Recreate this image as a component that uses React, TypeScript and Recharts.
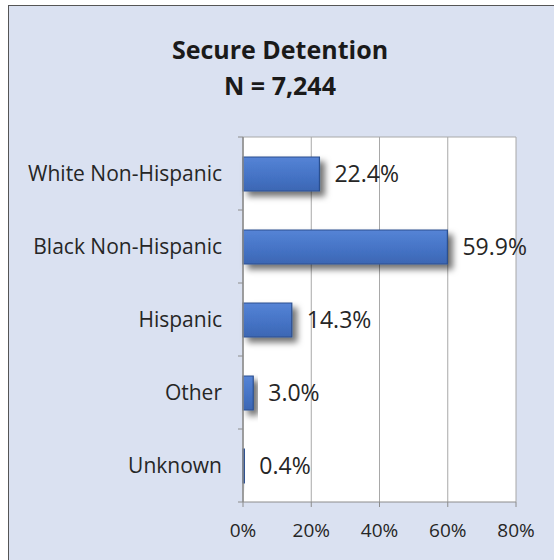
import { BarChart, Bar, XAxis, YAxis, CartesianGrid, LabelList, Rectangle } from "recharts"

const categories = ["White Non-Hispanic", "Black Non-Hispanic", "Hispanic", "Other", "Unknown"]
const percents = [22.4, 59.9, 14.3, 3.0, 0.4]
const xTicks = [0, 20, 40, 60, 80]

const data = categories.map((name, i) => ({ name, value: percents[i] }))

const font = "'Open Sans', 'Noto Sans', sans-serif"
const axisGray = "#8c8c8c"
const labelGap = 21

// category label plus a tick mark on the band edges (Excel style)
function CategoryTick(props: any) {
  const { x, y, payload, index } = props
  const half = payload?.offset ?? 0
  const ax = x + labelGap
  return (
    <g>
      <line x1={ax - 5} x2={ax} y1={y - half} y2={y - half} stroke={axisGray} />
      {index === categories.length - 1 && (
        <line x1={ax - 5} x2={ax} y1={y + half} y2={y + half} stroke={axisGray} />
      )}
      <text x={x} y={y} dy="0.355em" textAnchor="end" fontSize={21} fill="#262626" fontFamily={font}>
        {payload.value}
      </text>
    </g>
  )
}

export default function App() {
  return (
    <div style={{ position: "fixed", left: 0, top: 0, width: 554, height: 560, background: "#fff", overflow: "hidden", fontFamily: font }}>
      {/* shadow + bevel fill shared with the bars */}
      <svg width={0} height={0} style={{ position: "absolute" }}>
        <defs>
          <filter id="barShadow" x="-20%" y="-30%" width="160%" height="200%">
            <feDropShadow dx="5" dy="5" stdDeviation="3" floodColor="#000" floodOpacity="0.55" />
          </filter>
          <linearGradient id="barFill" x1="0" y1="0" x2="0" y2="1">
            <stop offset="0%" stopColor="#5584d6" />
            <stop offset="60%" stopColor="#4472c4" />
            <stop offset="100%" stopColor="#3d67b3" />
          </linearGradient>
        </defs>
      </svg>

      {/* outer chart frame */}
      <div style={{ position: "absolute", left: 8, top: 5, width: 560, height: 580, background: "#dae1f1", border: "1px solid #555" }} />

      {/* Title */}
      <div style={{ position: "absolute", left: 0, top: 31, width: 560, textAlign: "center", fontSize: 25, fontWeight: 700, color: "#1a1a1a", lineHeight: "36px" }}>
        Secure Detention
        <br />
        N = 7,244
      </div>

      <div style={{ position: "absolute", left: 0, top: 0 }}>
        <BarChart
          width={554}
          height={560}
          data={data}
          layout="vertical"
          margin={{ top: 137, right: 38, bottom: 0, left: 0 }}
        >
          <CartesianGrid
            fill="#fff"
            stroke="#a8a8a8"
            horizontal={true}
            horizontalCoordinatesGenerator={({ offset }: any) => [offset.top]}
          />
          <XAxis
            type="number"
            domain={[0, 80]}
            ticks={xTicks}
            tickFormatter={(v: number) => `${v}%`}
            axisLine={{ stroke: axisGray }}
            tickLine={{ stroke: axisGray }}
            tickSize={5}
            tickMargin={17}
            height={58}
            tick={{ fontSize: 19, fill: "#262626", fontFamily: font }}
            interval={0}
          />
          <YAxis
            type="category"
            dataKey="name"
            width={243}
            axisLine={{ stroke: axisGray, strokeWidth: 1.5 }}
            tickLine={false}
            tickSize={0}
            tickMargin={labelGap}
            tick={<CategoryTick />}
            interval={0}
          />
          <Bar
            dataKey="value"
            fill="url(#barFill)"
            stroke="#2c4f8f"
            strokeWidth={1.2}
            barSize={34}
            isAnimationActive={false}
            shape={(props: any) => <Rectangle {...props} filter="url(#barShadow)" />}
          >
            <LabelList
              dataKey="value"
              position="right"
              offset={15}
              formatter={(v: any) => `${Number(v).toFixed(1)}%`}
              style={{ fontSize: 23, fill: "#262626", fontFamily: font }}
            />
          </Bar>
        </BarChart>
      </div>
    </div>
  )
}
